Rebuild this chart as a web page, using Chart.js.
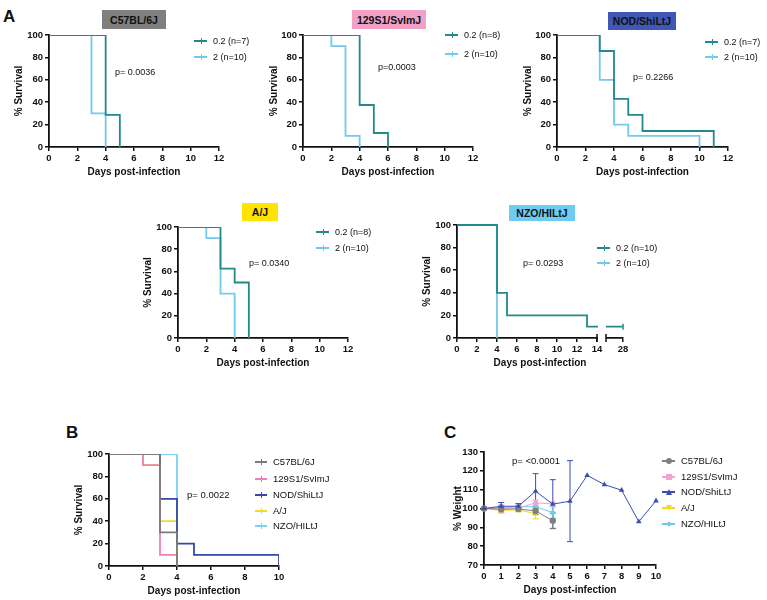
<!DOCTYPE html>
<html>
<head>
<meta charset="utf-8">
<script src="https://cdn.jsdelivr.net/npm/chart.js@4.4.1/dist/chart.umd.min.js"></script>
<style>
  body { margin: 0; background: #fff; font-family: 'Liberation Sans', Arial, sans-serif; }
  #fig { position: relative; width: 767px; height: 600px; overflow: hidden; }
  #fig canvas, #fig .txt, #fig .box, #fig .key { position: absolute; }
  .txt { white-space: nowrap; color: #111; font-size: 9px; line-height: 1; transform: translateY(-50%); }
  .letter { font-size: 17px; font-weight: bold; }
  .box { font-weight: bold; font-size: 10.5px; color: #111; display: flex; align-items: center; justify-content: center; }
  .key { height: 2px; }
  .key i { position: absolute; left: 50%; top: -2px; width: 1px; height: 6px; background: inherit; }
  .key b { position: absolute; left: 50%; top: 50%; transform: translate(-50%, -50%); }
</style>
</head>
<body>
<div id="fig"></div>
<script>
// ---- Panel A: Kaplan-Meier steps (day of event, % surviving after it) ----
const doseLabels = ['0.2', '2'];
const c57Days0 = [0, 4, 5],           c57Surv0 = [100, 28.6, 0];
const c57Days2 = [0, 3, 4],           c57Surv2 = [100, 30, 0];
const s129Days0 = [0, 4, 5, 6],       s129Surv0 = [100, 37.5, 12.5, 0];
const s129Days2 = [0, 2, 3, 4],       s129Surv2 = [100, 90, 10, 0];
const nodDays0 = [0, 3, 4, 5, 6, 11], nodSurv0 = [100, 85.7, 42.9, 28.6, 14.3, 0];
const nodDays2 = [0, 3, 4, 5, 10],    nodSurv2 = [100, 60, 20, 10, 0];
const ajDays0 = [0, 3, 4, 5],         ajSurv0 = [100, 62.5, 50, 0];
const ajDays2 = [0, 2, 3, 4],         ajSurv2 = [100, 90, 40, 0];
const nzoDays0 = [0, 4, 5, 13, 28],   nzoSurv0 = [100, 40, 20, 10, 10];
const nzoDays2 = [0, 4],              nzoSurv2 = [100, 0];

const groupN = {
  c57: ['n=7', 'n=10'], s129: ['n=8', 'n=10'], nod: ['n=7', 'n=10'],
  aj: ['n=8', 'n=10'], nzo: ['n=10', 'n=10']
};
const pValues = { c57: 'p= 0.0036', s129: 'p=0.0003', nod: 'p= 0.2266', aj: 'p= 0.0340', nzo: 'p= 0.0293', B: 'p= 0.0022', C: 'p= <0.0001' };

const survTicks = [0, 20, 40, 60, 80, 100];
const dayTicksA = [0, 2, 4, 6, 8, 10, 12];
const dayTicksNzo = [0, 2, 4, 6, 8, 10, 12, 14, 28];

// ---- Panel B: all strains, dose 2 ----
const strains = ['C57BL/6J', '129S1/SvImJ', 'NOD/ShiLtJ', 'A/J', 'NZO/HILtJ'];
const bDays = [c57Days2, s129Days2, nodDays2, ajDays2, nzoDays2];
const bSurv = [c57Surv2, s129Surv2, nodSurv2, ajSurv2, nzoSurv2];
const dayTicksB = [0, 2, 4, 6, 8, 10];

// ---- Panel C: % weight (mean, sd) ----
const weightDays = [0, 1, 2, 3, 4, 5, 6, 7, 8, 9, 10];
const c57Weight  = [100, 99.6, 99.8, 98.7, 93.5];
const c57Sd      = [0, 1.5, 1.5, 2, 4];
const s129Weight = [100, 100, 100.3, 103, 102.4];
const s129Sd     = [0, 2, 1.5, 1.5, 1];
const nodWeight  = [100, 101.2, 101.2, 109.2, 102.3, 103.9, 117.6, 112.7, 109.7, 93, 104.1];
const nodSd      = [0, 2, 1.4, 9.3, 13, 21.5, 0, 0, 0, 0, 0];
const ajWeight   = [100, 99, 99.3, 97.3];
const ajSd       = [0, 1.5, 1, 2.8];
const nzoWeight  = [100, 100.5, 100.8, 101, 97.8];
const nzoSd      = [0, 1, 1, 1.5, 3];
const weightTicks = [70, 80, 90, 100, 110, 120, 130];

// colours
const teal = '#23898b', sky = '#72c9ec';
const strainLine = ['#7b7b7b', '#ee80b9', '#3548a8', '#f3dc1c', '#7bd2f3'];
const strainMark = ['#808080', '#f4a3ca', '#3a4db0', '#f0dc18', '#6ccbef'];
const markStyles = ['circle', 'rect', 'triangle', 'triangle', 'rectRot'];
const markRot = [0, 0, 0, 180, 0];
const tagColors = { c57: '#7f7f7f', s129: '#f3a0c8', nod: '#4057b5', aj: '#ffe400', nzo: '#6fcbf2' };

const FONT = "'Liberation Sans', Arial, sans-serif";
const fig = document.getElementById('fig');

function txt(text, x, y, cls, css) {
  const d = document.createElement('div');
  d.className = 'txt ' + (cls || '');
  d.textContent = text;
  d.style.left = x + 'px';
  d.style.top = y + 'px';
  if (css) Object.assign(d.style, css);
  fig.appendChild(d);
  return d;
}

function tag(text, x0, y0, x1, y1, color) {
  const d = document.createElement('div');
  d.className = 'box';
  d.textContent = text;
  Object.assign(d.style, { left: x0 + 'px', top: y0 + 'px', width: (x1 - x0) + 'px', height: (y1 - y0) + 'px', background: color });
  fig.appendChild(d);
}

function key(x, y, w, color, marker) {
  const d = document.createElement('div');
  d.className = 'key';
  Object.assign(d.style, { left: x + 'px', top: (y - 1) + 'px', width: w + 'px', background: color });
  if (marker) d.appendChild(marker); else d.appendChild(document.createElement('i'));
  fig.appendChild(d);
}

function markerEl(style, color, rot) {
  const b = document.createElement('b');
  if (style === 'triangle') {
    Object.assign(b.style, { width: 0, height: 0, borderLeft: '3.5px solid transparent', borderRight: '3.5px solid transparent' });
    if (rot) b.style.borderTop = '6px solid ' + color; else b.style.borderBottom = '6px solid ' + color;
  } else if (style === 'rectRot') {
    Object.assign(b.style, { width: '4px', height: '4px', background: color, transform: 'translate(-50%,-50%) rotate(45deg)' });
  } else {
    Object.assign(b.style, { width: '6px', height: '6px', background: color, borderRadius: style === 'circle' ? '50%' : '0' });
  }
  return b;
}

// fixed-geometry chart: plot area L..R x T..B, axis titles centred at yTitleX / xTitleY
function makeChart(box, datasets, xScale, yScale, extraPlugins) {
  const left = box.yTitleX - 10, top = box.T - 8;
  const right = box.R + 12, bottom = box.xTitleY + 10;
  const cv = document.createElement('canvas');
  cv.width = right - left; cv.height = bottom - top;
  Object.assign(cv.style, { left: left + 'px', top: top + 'px', width: cv.width + 'px', height: cv.height + 'px' });
  fig.appendChild(cv);
  const yW = box.L - left, xH = bottom - box.B;
  const tickFont = { family: FONT, size: 9.5, weight: 'bold' };
  const titleFont = { family: FONT, size: 10, weight: 'bold' };
  const axis = (o, fitFn) => Object.assign({
    type: 'linear',
    grid: { drawOnChartArea: false, drawTicks: true, tickLength: 4, color: '#111', lineWidth: 1.5 },
    border: { color: '#111', width: 1.8 },
    afterFit: fitFn
  }, o, {
    ticks: Object.assign({ font: tickFont, color: '#111', padding: 2, maxRotation: 0, autoSkip: false }, o.ticks || {}),
    title: Object.assign({ display: true, font: titleFont, color: '#111', padding: { top: 4, bottom: 4 } }, o.title || {})
  });
  return new Chart(cv, {
    type: 'line',
    data: { datasets },
    options: {
      responsive: false,
      animation: false,
      layout: { padding: { top: 8, right: 12, left: 0, bottom: 0 } },
      plugins: { legend: { display: false }, tooltip: { enabled: false } },
      elements: { point: { radius: 0 }, line: { tension: 0 } },
      scales: {
        x: axis(xScale, s => { s.height = xH; }),
        y: axis(yScale, s => { s.width = yW; })
      }
    },
    plugins: extraPlugins || []
  });
}

const pts = (xs, ys, fx) => xs.map((x, i) => ({ x: fx ? fx(x) : x, y: ys[i] }));
const fixedTicks = list => scale => { scale.ticks = list.map(v => ({ value: v })); };

function survDataset(xs, ys, color, fx) {
  return { data: pts(xs, ys, fx), borderColor: color, borderWidth: 1.8, stepped: true, fill: false };
}

function survAxes(xTicks, xMax) {
  return [
    { min: 0, max: xMax, afterBuildTicks: fixedTicks(xTicks), title: { text: 'Days post-infection' } },
    { min: 0, max: 100, afterBuildTicks: fixedTicks(survTicks), title: { text: '% Survival' } }
  ];
}

// ---- Panel A ----
txt('A', 3, 16, 'letter');
const panelsA = [
  { k: 'c57', name: 'C57BL/6J', box: { L: 49, T: 35, R: 219, B: 147, yTitleX: 19, xTitleY: 172 },
    d0: [c57Days0, c57Surv0], d2: [c57Days2, c57Surv2], tagBox: [102, 10, 166, 29], key: [194, 41, 57], p: [115, 72] },
  { k: 's129', name: '129S1/SvImJ', box: { L: 303, T: 35, R: 473, B: 147, yTitleX: 274, xTitleY: 172 },
    d0: [s129Days0, s129Surv0], d2: [s129Days2, s129Surv2], tagBox: [352, 10, 426, 29], key: [445, 35, 54], p: [378, 67] },
  { k: 'nod', name: 'NOD/ShiLtJ', box: { L: 557, T: 35, R: 728, B: 147, yTitleX: 528, xTitleY: 172 },
    d0: [nodDays0, nodSurv0], d2: [nodDays2, nodSurv2], tagBox: [608, 12, 676, 30], key: [705, 42, 57], p: [633, 77] },
  { k: 'aj', name: 'A/J', box: { L: 178, T: 227, R: 348, B: 338, yTitleX: 148, xTitleY: 363 },
    d0: [ajDays0, ajSurv0], d2: [ajDays2, ajSurv2], tagBox: [242, 203, 278, 221], key: [316, 232, 248], p: [249, 263] }
];

panelsA.forEach(p => {
  const [xs, ys] = survAxes(dayTicksA, 12);
  makeChart(p.box, [survDataset(p.d0[0], p.d0[1], teal), survDataset(p.d2[0], p.d2[1], sky)], xs, ys);
  tag(p.name, ...p.tagBox, tagColors[p.k]);
  key(p.key[0], p.key[1], 13, teal); key(p.key[0], p.key[2], 13, sky);
  txt(doseLabels[0] + ' (' + groupN[p.k][0] + ')', p.key[0] + 19, p.key[1]);
  txt(doseLabels[1] + ' (' + groupN[p.k][1] + ')', p.key[0] + 19, p.key[2]);
  txt(pValues[p.k], p.p[0], p.p[1]);
});

// NZO: broken x axis, days after 14 are drawn on a short second segment ending at 28
const NZO_END = 16.6;
const nzoX = d => (d > 14 ? NZO_END - (28 - d) : d);
const axisBreak = {
  id: 'axisBreak',
  afterDatasetsDraw(chart) {
    const { ctx, chartArea, scales: { x } } = chart;
    const a = x.getPixelForValue(14), b = x.getPixelForValue(15);
    ctx.save();
    ctx.fillStyle = '#fff';
    ctx.fillRect(a + 1, chartArea.top, b - a - 2, chartArea.bottom - chartArea.top + 3);
    ctx.strokeStyle = '#111'; ctx.lineWidth = 1.5;
    ctx.beginPath();
    ctx.moveTo(a, chartArea.bottom - 4); ctx.lineTo(a, chartArea.bottom + 4);
    ctx.moveTo(b - 1, chartArea.bottom - 4); ctx.lineTo(b - 1, chartArea.bottom + 4);
    ctx.stroke();
    ctx.restore();
  }
};
{
  const box = { L: 457, T: 225, R: 623, B: 338, yTitleX: 427, xTitleY: 363 };
  const [xs, ys] = survAxes(dayTicksNzo.map(nzoX), NZO_END);
  xs.ticks = { callback: v => String(dayTicksNzo[dayTicksNzo.map(nzoX).indexOf(v)]) };
  const censored = survDataset(nzoDays0, nzoSurv0, teal, nzoX);
  // censor tick on the last surviving animal
  Object.assign(censored, {
    pointStyle: 'line', rotation: 90, pointBorderWidth: 1.5, pointBorderColor: teal,
    pointRadius: c => (c.dataIndex === nzoDays0.length - 1 ? 3 : 0), clip: false
  });
  makeChart(box, [censored, survDataset(nzoDays2, nzoSurv2, sky, nzoX)], xs, ys, [axisBreak]);
  tag('NZO/HILtJ', 509, 205, 575, 221, tagColors.nzo);
  key(597, 248, 13, teal); key(597, 263, 13, sky);
  txt(doseLabels[0] + ' (' + groupN.nzo[0] + ')', 616, 248);
  txt(doseLabels[1] + ' (' + groupN.nzo[1] + ')', 616, 263);
  txt(pValues.nzo, 523, 263);
}

// ---- Panel B ----
txt('B', 66, 432, 'letter');
{
  const box = { L: 109, T: 454, R: 279, B: 566, yTitleX: 79, xTitleY: 591 };
  const [xs, ys] = survAxes(dayTicksB, 10);
  makeChart(box, strains.map((s, i) => survDataset(bDays[i], bSurv[i], strainLine[i])), xs, ys);
  const keyY = [462, 479, 495, 511, 526];
  strains.forEach((s, i) => {
    key(255, keyY[i], 12, strainLine[i]);
    txt(s, 273, keyY[i], '', { fontSize: '9.5px' });
  });
  txt(pValues.B, 187, 495, '', { fontSize: '9.5px' });
}

// ---- Panel C ----
txt('C', 444, 432, 'letter');
const errorBars = {
  id: 'errorBars',
  beforeDatasetsDraw(chart) {
    const { ctx, scales: { x, y } } = chart;
    chart.data.datasets.forEach(ds => {
      ctx.save();
      ctx.strokeStyle = ds.borderColor; ctx.lineWidth = 1;
      ds.data.forEach((pt, i) => {
        const sd = ds.errors[i];
        if (!sd) return;
        const px = x.getPixelForValue(pt.x), hi = y.getPixelForValue(pt.y + sd), lo = y.getPixelForValue(pt.y - sd);
        ctx.beginPath();
        ctx.moveTo(px, hi); ctx.lineTo(px, lo);
        ctx.moveTo(px - 3, hi); ctx.lineTo(px + 3, hi);
        ctx.moveTo(px - 3, lo); ctx.lineTo(px + 3, lo);
        ctx.stroke();
      });
      ctx.restore();
    });
  }
};
{
  const box = { L: 484, T: 452, R: 656, B: 565, yTitleX: 458, xTitleY: 590 };
  const means = [c57Weight, s129Weight, nodWeight, ajWeight, nzoWeight];
  const sds = [c57Sd, s129Sd, nodSd, ajSd, nzoSd];
  // NOD drawn last so it sits on top, as in the figure
  const order = [2, 0, 1, 3, 4];
  const datasets = order.map(i => ({
    data: pts(weightDays.slice(0, means[i].length), means[i]),
    errors: sds[i],
    borderColor: strainMark[i], backgroundColor: strainMark[i],
    borderWidth: 1, pointRadius: 3.2, pointBorderWidth: 0,
    pointStyle: markStyles[i], rotation: markRot[i], clip: false
  }));
  makeChart(box, datasets,
    { min: 0, max: 10, afterBuildTicks: fixedTicks(weightDays), title: { text: 'Days post-infection' } },
    { min: 70, max: 130, afterBuildTicks: fixedTicks(weightTicks), title: { text: '% Weight' } },
    [errorBars]);
  const keyY = [461, 477, 492, 508, 524];
  strains.forEach((s, i) => {
    key(662, keyY[i], 13, strainMark[i], markerEl(markStyles[i], strainMark[i], markRot[i]));
    txt(s, 681, keyY[i], '', { fontSize: '9.5px' });
  });
  txt(pValues.C, 512, 461, '', { fontSize: '9.5px' });
}
</script>
</body>
</html>
